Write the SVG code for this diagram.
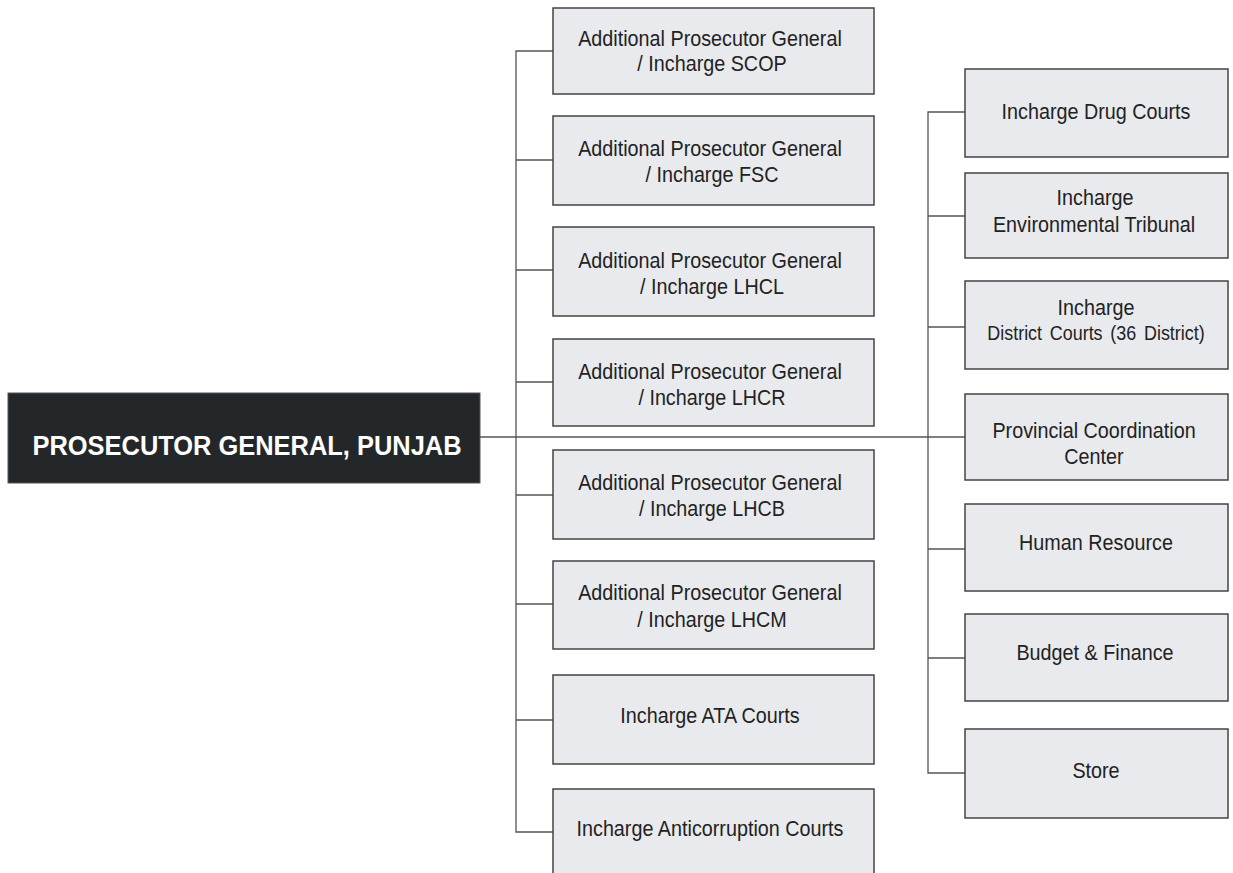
<svg xmlns="http://www.w3.org/2000/svg" width="1233" height="873" viewBox="0 0 1233 873">
<style>
.box{fill:#e9eaee;stroke:#444;stroke-width:1.5}
.t{font-family:"Liberation Sans",Arial,sans-serif;font-size:21.5px;fill:#222;text-anchor:middle}
.s{font-size:19.5px;word-spacing:3px}
.c{fill:none;stroke:#555;stroke-width:1.3}
.main{fill:#23272a;stroke:#555;stroke-width:1}
.mt{font-family:"Liberation Sans",Arial,sans-serif;font-size:27.5px;font-weight:bold;fill:#fff;text-anchor:middle}
</style>
<rect width="1233" height="873" fill="#fff"/>
<g id="connectors">
<path class="c" d="M480 437H965"/>
<path class="c" d="M553 51H516V832H553"/>
<path class="c" d="M516 160H553M516 270H553M516 382H553M516 495H553M516 604H553M516 720H553"/>
<path class="c" d="M965 112H928V773H965"/>
<path class="c" d="M928 216H965M928 327H965M928 549H965M928 658H965"/>
</g>
<g id="root">
<rect class="main" x="8" y="393" width="472" height="90"/>
<text class="mt" x="247" y="455" textLength="429" lengthAdjust="spacingAndGlyphs">PROSECUTOR GENERAL, PUNJAB</text>
</g>
<g id="apg-scop">
<rect class="box" x="553" y="8" width="321" height="86"/>
<text class="t" transform="translate(710 46) scale(0.92 1)">Additional Prosecutor General</text>
<text class="t" transform="translate(712 71) scale(0.92 1)">/ Incharge SCOP</text>
</g>
<g id="apg-fsc">
<rect class="box" x="553" y="116" width="321" height="89"/>
<text class="t" transform="translate(710 156) scale(0.92 1)">Additional Prosecutor General</text>
<text class="t" transform="translate(712 182) scale(0.92 1)">/ Incharge FSC</text>
</g>
<g id="apg-lhcl">
<rect class="box" x="553" y="227" width="321" height="89"/>
<text class="t" transform="translate(710 268) scale(0.92 1)">Additional Prosecutor General</text>
<text class="t" transform="translate(712 294) scale(0.92 1)">/ Incharge LHCL</text>
</g>
<g id="apg-lhcr">
<rect class="box" x="553" y="339" width="321" height="87"/>
<text class="t" transform="translate(710 379) scale(0.92 1)">Additional Prosecutor General</text>
<text class="t" transform="translate(712 405) scale(0.92 1)">/ Incharge LHCR</text>
</g>
<g id="apg-lhcb">
<rect class="box" x="553" y="450" width="321" height="89"/>
<text class="t" transform="translate(710 490) scale(0.92 1)">Additional Prosecutor General</text>
<text class="t" transform="translate(712 516) scale(0.92 1)">/ Incharge LHCB</text>
</g>
<g id="apg-lhcm">
<rect class="box" x="553" y="561" width="321" height="88"/>
<text class="t" transform="translate(710 600) scale(0.92 1)">Additional Prosecutor General</text>
<text class="t" transform="translate(712 627) scale(0.92 1)">/ Incharge LHCM</text>
</g>
<g id="ata">
<rect class="box" x="553" y="675" width="321" height="89"/>
<text class="t" transform="translate(710 723) scale(0.92 1)">Incharge ATA Courts</text>
</g>
<g id="anticorruption">
<rect class="box" x="553" y="789" width="321" height="100"/>
<text class="t" transform="translate(710 836) scale(0.92 1)">Incharge Anticorruption Courts</text>
</g>
<g id="drug">
<rect class="box" x="965" y="69" width="263" height="88"/>
<text class="t" transform="translate(1096 119) scale(0.92 1)">Incharge Drug Courts</text>
</g>
<g id="env">
<rect class="box" x="965" y="173" width="263" height="85"/>
<text class="t" transform="translate(1095 205) scale(0.92 1)">Incharge</text>
<text class="t" transform="translate(1094 232) scale(0.92 1)">Environmental Tribunal</text>
</g>
<g id="district">
<rect class="box" x="965" y="281" width="263" height="88"/>
<text class="t" transform="translate(1096 315) scale(0.92 1)">Incharge</text>
<text class="t s" transform="translate(1096 340) scale(0.92 1)">District Courts (36 District)</text>
</g>
<g id="pcc">
<rect class="box" x="965" y="394" width="263" height="86"/>
<text class="t" transform="translate(1094 438) scale(0.92 1)">Provincial Coordination</text>
<text class="t" transform="translate(1094 464) scale(0.92 1)">Center</text>
</g>
<g id="hr">
<rect class="box" x="965" y="504" width="263" height="87"/>
<text class="t" transform="translate(1096 550) scale(0.92 1)">Human Resource</text>
</g>
<g id="budget">
<rect class="box" x="965" y="614" width="263" height="87"/>
<text class="t" transform="translate(1095 660) scale(0.92 1)">Budget &amp; Finance</text>
</g>
<g id="store">
<rect class="box" x="965" y="729" width="263" height="89"/>
<text class="t" transform="translate(1096 778) scale(0.92 1)">Store</text>
</g>
</svg>
